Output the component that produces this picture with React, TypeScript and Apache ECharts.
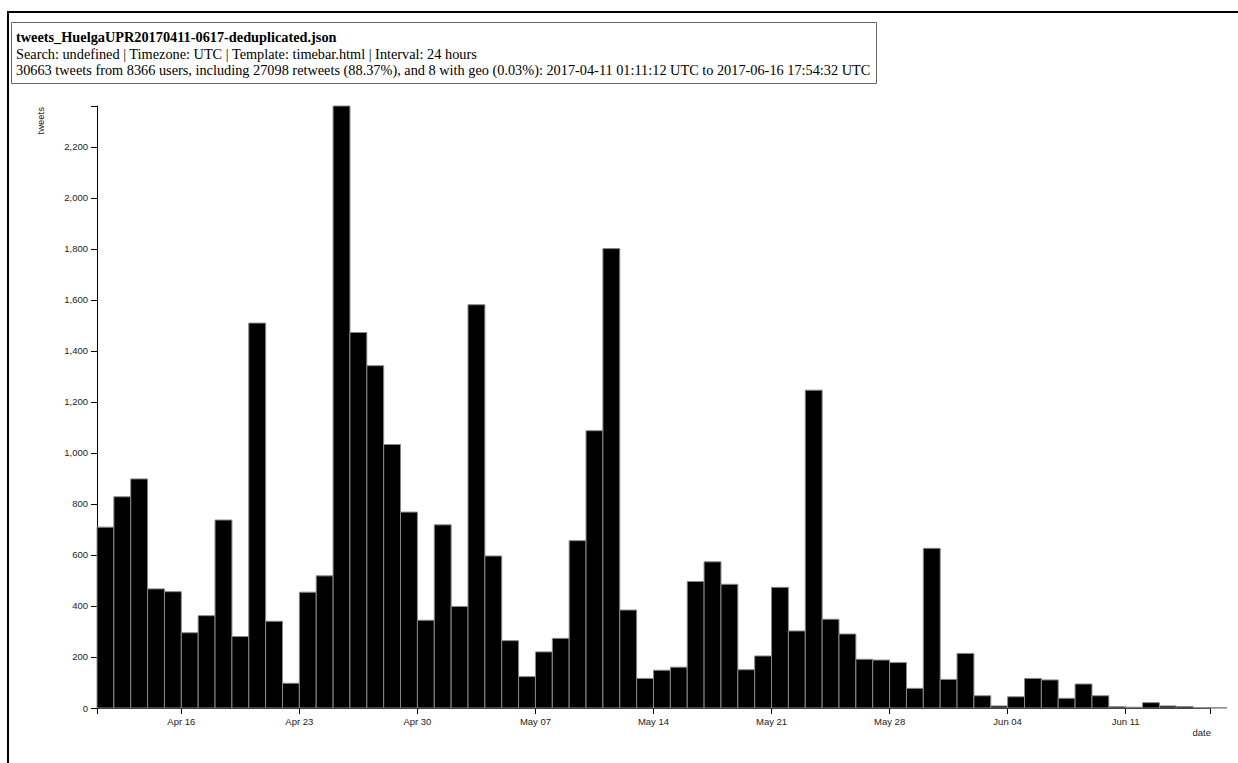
import React, { useEffect, useRef } from "react";
import * as echarts from "echarts";

// Daily bins from 2017-04-11 to 2017-06-16 (UTC)
const binDates = [
  "2017-04-11", "2017-04-12", "2017-04-13", "2017-04-14", "2017-04-15", "2017-04-16", "2017-04-17",
  "2017-04-18", "2017-04-19", "2017-04-20", "2017-04-21", "2017-04-22", "2017-04-23", "2017-04-24",
  "2017-04-25", "2017-04-26", "2017-04-27", "2017-04-28", "2017-04-29", "2017-04-30", "2017-05-01",
  "2017-05-02", "2017-05-03", "2017-05-04", "2017-05-05", "2017-05-06", "2017-05-07", "2017-05-08",
  "2017-05-09", "2017-05-10", "2017-05-11", "2017-05-12", "2017-05-13", "2017-05-14", "2017-05-15",
  "2017-05-16", "2017-05-17", "2017-05-18", "2017-05-19", "2017-05-20", "2017-05-21", "2017-05-22",
  "2017-05-23", "2017-05-24", "2017-05-25", "2017-05-26", "2017-05-27", "2017-05-28", "2017-05-29",
  "2017-05-30", "2017-05-31", "2017-06-01", "2017-06-02", "2017-06-03", "2017-06-04", "2017-06-05",
  "2017-06-06", "2017-06-07", "2017-06-08", "2017-06-09", "2017-06-10", "2017-06-11", "2017-06-12",
  "2017-06-13", "2017-06-14", "2017-06-15", "2017-06-16",
];

const tweetCounts = [
  709, 828, 898, 467, 456, 295, 362,
  737, 280, 1509, 340, 97, 454, 518,
  2360, 1472, 1342, 1033, 768, 344, 718,
  398, 1581, 596, 264, 123, 220, 273,
  656, 1087, 1801, 384, 116, 148, 160,
  496, 573, 485, 150, 204, 473, 302,
  1246, 348, 290, 191, 188, 178, 77,
  626, 112, 214, 48, 8, 44, 116,
  110, 38, 94, 48, 5, 3, 21,
  8, 6, 1, 1,
];

// x ticks: day offsets from 2017-04-11
const xTickDays = [5, 12, 19, 26, 33, 40, 47, 54, 61];
const xTickLabels = ["Apr 16", "Apr 23", "Apr 30", "May 07", "May 14", "May 21", "May 28", "Jun 04", "Jun 11"];
const xDomainEnd = 66;

const yTickValues = [0, 200, 400, 600, 800, 1000, 1200, 1400, 1600, 1800, 2000, 2200];
const yDomainMax = 2360;

const titleLine = "tweets_HuelgaUPR20170411-0617-deduplicated.json";
const searchLine = "Search: undefined | Timezone: UTC | Template: timebar.html | Interval: 24 hours";
const statsLine =
  "30663 tweets from 8366 users, including 27098 retweets (88.37%), and 8 with geo (0.03%): 2017-04-11 01:11:12 UTC to 2017-06-16 17:54:32 UTC";

const SANS = "'Liberation Sans', Arial, Helvetica, sans-serif";
const SERIF = "'Liberation Serif', 'Times New Roman', serif";

export default function App() {
  const ref = useRef<HTMLDivElement>(null);

  useEffect(() => {
    if (!ref.current) return;
    const chart = echarts.init(ref.current, undefined, { renderer: "svg" });

    const option: any = {
      animation: false,
      backgroundColor: "#fff",
      grid: { left: 97, top: 106, width: 1113, height: 602, containLabel: false },
      xAxis: {
        type: "value",
        min: 0,
        max: xDomainEnd,
        axisLine: { show: true, lineStyle: { color: "#000", width: 1 } },
        axisTick: {
          show: true,
          customValues: [0, ...xTickDays, xDomainEnd],
          length: 6,
          lineStyle: { color: "#000", width: 1 },
        },
        axisLabel: {
          customValues: xTickDays,
          formatter: (v: number) => {
            const k = xTickDays.indexOf(Math.round(v));
            return k >= 0 ? xTickLabels[k] : "";
          },
          margin: 8,
          fontSize: 9.5,
          color: "#222",
          fontFamily: SANS,
        },
        splitLine: { show: false },
      },
      yAxis: {
        type: "value",
        min: 0,
        max: yDomainMax,
        axisLine: { show: true, lineStyle: { color: "#000", width: 1 } },
        axisTick: {
          show: true,
          customValues: [...yTickValues, yDomainMax],
          length: 6,
          lineStyle: { color: "#000", width: 1 },
        },
        axisLabel: {
          customValues: yTickValues,
          formatter: (v: number) => v.toLocaleString("en-US"),
          margin: 9,
          fontSize: 9.5,
          color: "#222",
          fontFamily: SANS,
        },
        splitLine: { show: false },
      },
      series: [
        {
          type: "custom",
          clip: false,
          data: tweetCounts.map((v, i) => [i, v, binDates[i]]),
          encode: { x: 0, y: 1 },
          renderItem: (params: any, api: any) => {
            const i = api.value(0);
            const v = api.value(1);
            const p0 = api.coord([i, v]);
            const p1 = api.coord([i + 1, 0]);
            return {
              type: "rect",
              shape: { x: p0[0], y: p0[1], width: p1[0] - p0[0], height: p1[1] - p0[1] },
              style: { fill: "#000", stroke: "#888", lineWidth: 1 },
            };
          },
        },
      ],
      graphic: [
        {
          type: "rect",
          shape: { x: 8, y: 12, width: 1260, height: 780 },
          style: { fill: "none", stroke: "#000", lineWidth: 2 },
          silent: true,
        },
        {
          type: "rect",
          shape: { x: 11.5, y: 22.5, width: 865, height: 61 },
          style: { fill: "#fff", stroke: "#666", lineWidth: 1 },
          silent: true,
        },
        {
          type: "text",
          style: {
            x: 16,
            y: 37,
            text: titleLine,
            font: `bold 14.3px ${SERIF}`,
            fill: "#000",
            textVerticalAlign: "middle",
          },
        },
        {
          type: "text",
          style: {
            x: 16,
            y: 53.5,
            text: searchLine,
            font: `14.3px ${SERIF}`,
            fill: "#000",
            textVerticalAlign: "middle",
          },
        },
        {
          type: "text",
          style: {
            x: 16,
            y: 70,
            text: statsLine,
            font: `14.3px ${SERIF}`,
            fill: "#000",
            textVerticalAlign: "middle",
          },
        },
        {
          type: "text",
          style: {
            x: 1211,
            y: 732,
            text: "date",
            font: `9.5px ${SANS}`,
            fill: "#222",
            textAlign: "right",
            textVerticalAlign: "middle",
          },
        },
        {
          type: "text",
          x: 40,
          y: 107,
          rotation: Math.PI / 2,
          style: {
            x: 0,
            y: 0,
            text: "tweets",
            font: `9.5px ${SANS}`,
            fill: "#222",
            textAlign: "right",
            textVerticalAlign: "middle",
          },
        },
      ],
    };

    chart.setOption(option);
    return () => chart.dispose();
  }, []);

  return (
    <div
      ref={ref}
      style={{ position: "fixed", left: 0, top: 0, width: 1238, height: 763, background: "#fff" }}
    />
  );
}
